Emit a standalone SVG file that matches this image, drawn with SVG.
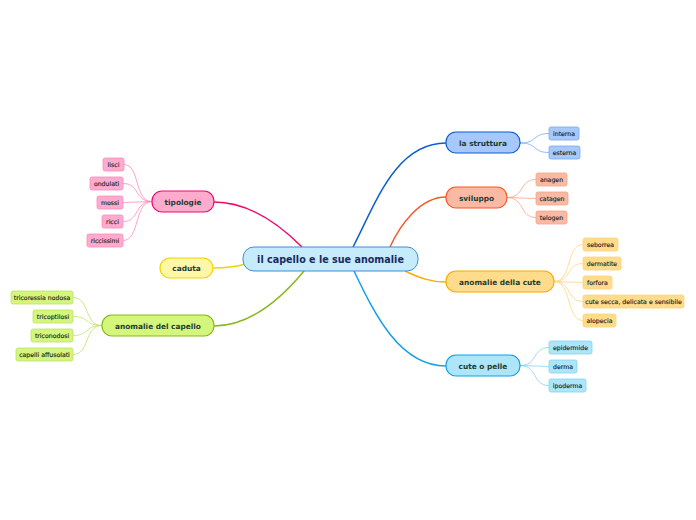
<svg xmlns="http://www.w3.org/2000/svg" width="696" height="520" viewBox="0 0 696 520">
<style>
text{font-family:"DejaVu Sans",Verdana,sans-serif;text-anchor:middle;dominant-baseline:central}
.c{font-size:9.6px;font-weight:bold;fill:#1b2a5c}
.m{font-size:7.4px;font-weight:bold;fill:#1d3b30}
.l{font-size:6.2px;fill:#222;stroke:#222;stroke-width:0.15}
.e{fill:none}
.e1{stroke-width:1.5}
.e2{stroke-width:0.8}
</style>
<rect width="696" height="520" fill="#fff"/>
<g id="connectors">
<path class="e e1" stroke="#0b5fd0" d="M353,247 C375,205 395,143 446,143"/>
<path class="e e1" stroke="#f25a2a" d="M390,247 C400,225 420,197 446,197"/>
<path class="e e1" stroke="#ffaa00" d="M405,271 C420,278 430,282 446,282"/>
<path class="e e1" stroke="#14a0e4" d="M354,271 C375,315 400,366 446,366"/>
<path class="e e1" stroke="#ee0a6e" d="M302,247 C280,225 250,202 214,202"/>
<path class="e e1" stroke="#f0d400" d="M246,264 C235,267 225,268 213,268"/>
<path class="e e1" stroke="#86b81a" d="M304,271 C280,300 250,326 214,326"/>
<g stroke="#7aa8f0" class="e e2">
<path d="M520,143 C538,143 532,133.5 549,133.5"/>
<path d="M520,143 C538,143 532,152.5 549,152.5"/>
</g>
<g stroke="#f9a488" class="e e2">
<path d="M507,197.5 C525,197.5 519,179.5 536,179.5"/>
<path d="M507,197.5 L536,198.5"/>
<path d="M507,197.5 C525,197.5 519,217.5 536,217.5"/>
</g>
<g stroke="#ffd47a" class="e e2">
<path d="M554,281.5 C572,281.5 566,244.5 583,244.5"/>
<path d="M554,281.5 C572,281.5 566,263.5 583,263.5"/>
<path d="M554,281.5 L583,282.5"/>
<path d="M554,281.5 C572,281.5 566,301.5 583,301.5"/>
<path d="M554,281.5 C572,281.5 566,320.5 583,320.5"/>
</g>
<g stroke="#86d2f2" class="e e2">
<path d="M520,365.5 C538,365.5 532,347.5 549,347.5"/>
<path d="M520,365.5 L549,366.5"/>
<path d="M520,365.5 C538,365.5 532,385.5 549,385.5"/>
</g>
<g stroke="#ff8cbc" class="e e2">
<path d="M152,201.5 C134,201.5 140,164.5 124,164.5"/>
<path d="M152,201.5 C134,201.5 140,183.5 123,183.5"/>
<path d="M152,201.5 L123,202.5"/>
<path d="M152,201.5 C134,201.5 140,221.5 123,221.5"/>
<path d="M152,201.5 C134,201.5 140,240.5 123,240.5"/>
</g>
<g stroke="#bfe26a" class="e e2">
<path d="M102,325.5 C84,325.5 90,297.5 73,297.5"/>
<path d="M102,325.5 C84,325.5 90,316.5 73,316.5"/>
<path d="M102,325.5 C84,325.5 90,335.5 73,335.5"/>
<path d="M102,325.5 C84,325.5 90,354.5 73,354.5"/>
</g>
</g>
<g id="center"><rect x="243" y="247" width="175" height="24" rx="11" fill="#c6ebfc" stroke="#3d8fd4" stroke-width="1"/><text class="c" x="330.5" y="259.5">il capello e le sue anomalie</text></g>
<g id="struttura"><rect x="446" y="132" width="74" height="21" rx="10" fill="#a7c8fc" stroke="#0b5fd0" stroke-width="1.2"/><text class="m" x="483" y="143">la struttura</text></g>
<g id="sviluppo"><rect x="446" y="187" width="61" height="21" rx="10" fill="#f9b9a2" stroke="#f25a2a" stroke-width="1.2"/><text class="m" x="476.5" y="198">sviluppo</text></g>
<g id="cute"><rect x="446" y="271" width="108" height="21" rx="10" fill="#ffdb8c" stroke="#ffaa00" stroke-width="1.2"/><text class="m" x="500" y="282">anomalie della cute</text></g>
<g id="pelle"><rect x="446" y="355" width="74" height="21" rx="10" fill="#ade5f9" stroke="#14a0e4" stroke-width="1.2"/><text class="m" x="483" y="366">cute o pelle</text></g>
<g id="tipologie"><rect x="152" y="191" width="62" height="21" rx="10" fill="#ffabcd" stroke="#ee0a6e" stroke-width="1.2"/><text class="m" x="183" y="202">tipologie</text></g>
<g id="caduta"><rect x="160" y="258" width="53" height="20" rx="10" fill="#fff7a8" stroke="#f0d400" stroke-width="1.2"/><text class="m" x="186.5" y="268.5">caduta</text></g>
<g id="capello"><rect x="102" y="315" width="112" height="21" rx="10" fill="#d4f67c" stroke="#86b81a" stroke-width="1.2"/><text class="m" x="158" y="326">anomalie del capello</text></g>
<g fill="#a7c8fc" stroke="#7aa8f0" stroke-width="0.8">
<g id="interna"><rect x="549" y="127" width="30" height="13" rx="2"/><text class="l" x="564" y="133.8">interna</text></g>
<g id="esterna"><rect x="549" y="146" width="31" height="13" rx="2"/><text class="l" x="564.5" y="152.8">esterna</text></g>
</g>
<g fill="#f9b9a2" stroke="#f9a488" stroke-width="0.8">
<g id="anagen"><rect x="536" y="173" width="31" height="13" rx="2"/><text class="l" x="551.5" y="179.8">anagen</text></g>
<g id="catagen"><rect x="536" y="192" width="32" height="13" rx="2"/><text class="l" x="552" y="198.8">catagen</text></g>
<g id="telogen"><rect x="536" y="211" width="31" height="13" rx="2"/><text class="l" x="551.5" y="217.8">telogen</text></g>
</g>
<g fill="#ffdb8c" stroke="#ffd47a" stroke-width="0.8">
<g id="seborrea"><rect x="583" y="238" width="35" height="13" rx="2"/><text class="l" x="600.5" y="244.8">seborrea</text></g>
<g id="dermatite"><rect x="583" y="257" width="38" height="13" rx="2"/><text class="l" x="602" y="263.8">dermatite</text></g>
<g id="forfora"><rect x="583" y="276" width="29" height="13" rx="2"/><text class="l" x="597.5" y="282.8">forfora</text></g>
<g id="secca"><rect x="583" y="295" width="101" height="13" rx="2"/><text class="l" x="633.5" y="301.8">cute secca, delicata e sensibile</text></g>
<g id="alopecia"><rect x="583" y="314" width="33" height="13" rx="2"/><text class="l" x="599.5" y="320.8">alopecia</text></g>
</g>
<g fill="#ade5f9" stroke="#86d2f2" stroke-width="0.8">
<g id="epidermide"><rect x="549" y="341" width="43" height="13" rx="2"/><text class="l" x="570.5" y="347.8">epidermide</text></g>
<g id="derma"><rect x="549" y="360" width="28" height="13" rx="2"/><text class="l" x="563" y="366.8">derma</text></g>
<g id="ipoderma"><rect x="549" y="379" width="37" height="13" rx="2"/><text class="l" x="567.5" y="385.8">ipoderma</text></g>
</g>
<g fill="#ffabcd" stroke="#ff8cbc" stroke-width="0.8">
<g id="lisci"><rect x="103" y="158" width="21" height="13" rx="2"/><text class="l" x="113.5" y="164.8">lisci</text></g>
<g id="ondulati"><rect x="90" y="177" width="33" height="13" rx="2"/><text class="l" x="106.5" y="183.8">ondulati</text></g>
<g id="mossi"><rect x="97" y="196" width="26" height="13" rx="2"/><text class="l" x="110" y="202.8">mossi</text></g>
<g id="ricci"><rect x="102" y="215" width="21" height="13" rx="2"/><text class="l" x="112.5" y="221.8">ricci</text></g>
<g id="riccissimi"><rect x="87" y="234" width="36" height="13" rx="2"/><text class="l" x="105" y="240.8">riccissimi</text></g>
</g>
<g fill="#d4f67c" stroke="#bfe26a" stroke-width="0.8">
<g id="tricoressia"><rect x="11" y="291" width="62" height="13" rx="2"/><text class="l" x="42" y="297.8">tricoressia nodosa</text></g>
<g id="tricoptilosi"><rect x="33" y="310" width="40" height="13" rx="2"/><text class="l" x="53" y="316.8">tricoptilosi</text></g>
<g id="triconodosi"><rect x="31" y="329" width="42" height="13" rx="2"/><text class="l" x="52" y="335.8">triconodosi</text></g>
<g id="affusolati"><rect x="16" y="348" width="57" height="13" rx="2"/><text class="l" x="44.5" y="354.8">capelli affusolati</text></g>
</g>
</svg>
